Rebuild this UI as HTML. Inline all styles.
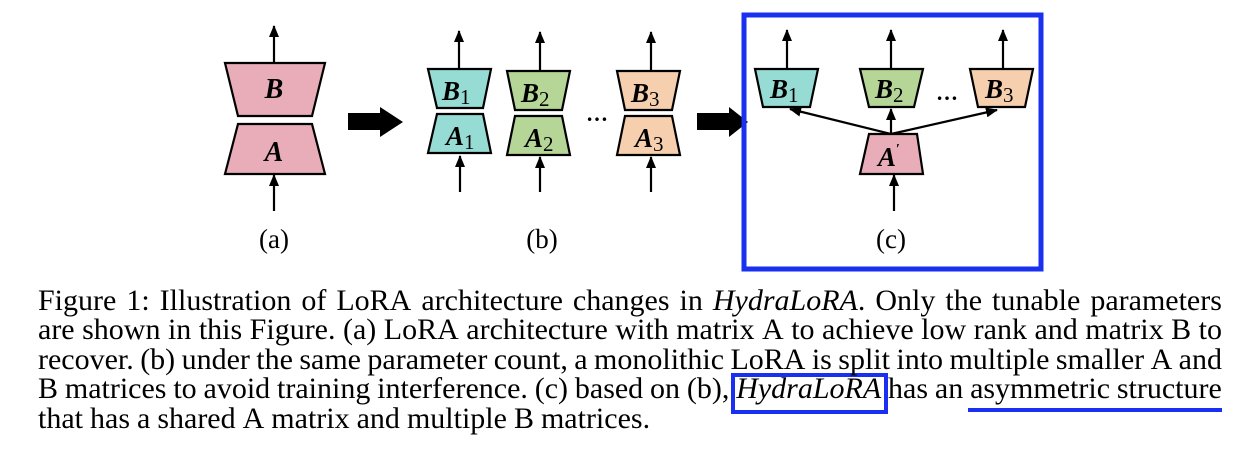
<!DOCTYPE html>
<html><head><meta charset="utf-8"><style>
html,body{margin:0;padding:0;background:#fff;width:1252px;height:452px;overflow:hidden}
svg{position:absolute;left:0;top:0}
.cap{position:absolute;left:38px;width:1184px;top:286px;font-family:"Liberation Serif",serif;font-size:30px;line-height:29.4px;color:#000}
.ln{white-space:nowrap;height:29.4px;display:flex;justify-content:space-between}
.ln.last{justify-content:flex-start;gap:7px}
</style></head><body>
<svg width="1252" height="452">
<defs><marker id="ah" markerWidth="12" markerHeight="10" refX="11" refY="5" orient="auto" markerUnits="userSpaceOnUse"><path d="M0,0 L12,5 L0,10 Z" fill="#000"/></marker></defs>
<g stroke="#000" stroke-width="2.2" font-family="'Liberation Serif',serif" font-weight="bold" font-style="italic">
<g>
<line x1="274" y1="63" x2="274" y2="26" marker-end="url(#ah)"/>
<polygon points="225,63 325,63 312,116 238,116" fill="#e8adb8"/>
<polygon points="238,124 312,124 325,174 225,174" fill="#e8adb8"/>
<line x1="274" y1="211" x2="274" y2="175" marker-end="url(#ah)"/>
<text x="274" y="98" font-size="28" text-anchor="middle" stroke="none">B</text>
<text x="274" y="161" font-size="28" text-anchor="middle" stroke="none">A</text>
</g>
<polygon points="348,113 380,113 380,107 403,122 380,137 380,130 348,130" fill="#000" stroke="none"/>
<polygon points="697,113 729,113 729,107 748,122 729,137 729,130 697,130" fill="#000" stroke="none"/>
<g>
<line x1="459" y1="69" x2="459" y2="31" marker-end="url(#ah)"/>
<polygon points="428,69 491,69 483,108 437,108" fill="#96dcd5"/>
<polygon points="437,114 483,114 491,153 428,153" fill="#96dcd5"/>
<line x1="460" y1="192" x2="460" y2="156" marker-end="url(#ah)"/>
<line x1="540" y1="71" x2="540" y2="32" marker-end="url(#ah)"/>
<polygon points="507,71 570,71 562,110 515,110" fill="#b5d697"/>
<polygon points="515,116 562,116 570,155 507,155" fill="#b5d697"/>
<line x1="540" y1="192" x2="540" y2="157" marker-end="url(#ah)"/>
<line x1="651" y1="71" x2="651" y2="32" marker-end="url(#ah)"/>
<polygon points="617,71 680,71 672,110 625,110" fill="#f5cfae"/>
<polygon points="625,116 672,116 680,155 617,155" fill="#f5cfae"/>
<line x1="651" y1="192" x2="651" y2="157" marker-end="url(#ah)"/>
<g stroke="none" font-size="27">
<text x="442" y="100">B<tspan font-style="normal" font-weight="normal" font-size="21" dy="4">1</tspan></text>
<text x="446" y="145">A<tspan font-style="normal" font-weight="normal" font-size="21" dy="4">1</tspan></text>
<text x="521" y="102">B<tspan font-style="normal" font-weight="normal" font-size="21" dy="4">2</tspan></text>
<text x="525" y="147">A<tspan font-style="normal" font-weight="normal" font-size="21" dy="4">2</tspan></text>
<text x="631" y="102">B<tspan font-style="normal" font-weight="normal" font-size="21" dy="4">3</tspan></text>
<text x="635" y="147">A<tspan font-style="normal" font-weight="normal" font-size="21" dy="4">3</tspan></text>
<text x="597" y="121" font-style="normal" text-anchor="middle" font-size="22">…</text>
</g>
</g>
<rect x="744" y="15" width="297" height="254" fill="none" stroke="#1a30f0" stroke-width="5"/>
<g>
<line x1="787" y1="69" x2="787" y2="30" marker-end="url(#ah)"/>
<line x1="891" y1="69" x2="891" y2="30" marker-end="url(#ah)"/>
<line x1="1003" y1="69" x2="1003" y2="30" marker-end="url(#ah)"/>
<polygon points="755,69 818,69 810,107 763,107" fill="#96dcd5"/>
<polygon points="860,69 923,69 914,107 869,107" fill="#b5d697"/>
<polygon points="970,69 1033,69 1025,107 978,107" fill="#f5cfae"/>
<polygon points="869,134 917,134 923,174 860,174" fill="#e8adb8"/>
<line x1="891" y1="134" x2="790" y2="109" marker-end="url(#ah)"/>
<line x1="891" y1="134" x2="891" y2="109" marker-end="url(#ah)"/>
<line x1="891" y1="134" x2="997" y2="110" marker-end="url(#ah)"/>
<line x1="894" y1="211" x2="894" y2="175" marker-end="url(#ah)"/>
<g stroke="none" font-size="27">
<text x="770" y="98">B<tspan font-style="normal" font-weight="normal" font-size="21" dy="4">1</tspan></text>
<text x="875" y="98">B<tspan font-style="normal" font-weight="normal" font-size="21" dy="4">2</tspan></text>
<text x="985" y="98">B<tspan font-style="normal" font-weight="normal" font-size="21" dy="4">3</tspan></text>
<text x="878" y="166">A<tspan font-style="normal" font-size="14" dy="-13">′</tspan></text>
<text x="947" y="100" font-style="normal" text-anchor="middle" font-size="22">…</text>
</g>
</g>
<g stroke="none" font-weight="normal" font-style="normal" font-size="27" text-anchor="middle">
<text x="274" y="248">(a)</text>
<text x="542" y="248">(b)</text>
<text x="891" y="248">(c)</text>
</g>
</g>
<rect x="733" y="375" width="153" height="37" fill="none" stroke="#1a30f0" stroke-width="4"/>
<line x1="968" y1="410" x2="1222" y2="410" stroke="#1a30f0" stroke-width="4"/>
</svg>
<div class="cap">
<div class="ln"><span>Figure</span><span>1:</span><span>Illustration</span><span>of</span><span>LoRA</span><span>architecture</span><span>changes</span><span>in</span><span><i>HydraLoRA</i>.</span><span>Only</span><span>the</span><span>tunable</span><span>parameters</span></div>
<div class="ln"><span>are</span><span>shown</span><span>in</span><span>this</span><span>Figure.</span><span>(a)</span><span>LoRA</span><span>architecture</span><span>with</span><span>matrix</span><span>A</span><span>to</span><span>achieve</span><span>low</span><span>rank</span><span>and</span><span>matrix</span><span>B</span><span>to</span></div>
<div class="ln"><span>recover.</span><span>(b)</span><span>under</span><span>the</span><span>same</span><span>parameter</span><span>count,</span><span>a</span><span>monolithic</span><span>LoRA</span><span>is</span><span>split</span><span>into</span><span>multiple</span><span>smaller</span><span>A</span><span>and</span></div>
<div class="ln"><span>B</span><span>matrices</span><span>to</span><span>avoid</span><span>training</span><span>interference.</span><span>(c)</span><span>based</span><span>on</span><span>(b),</span><span><i>HydraLoRA</i></span><span>has</span><span>an</span><span>asymmetric</span><span>structure</span></div>
<div class="ln last"><span>that</span><span>has</span><span>a</span><span>shared</span><span>A</span><span>matrix</span><span>and</span><span>multiple</span><span>B</span><span>matrices.</span></div>
</div>
</body></html>
